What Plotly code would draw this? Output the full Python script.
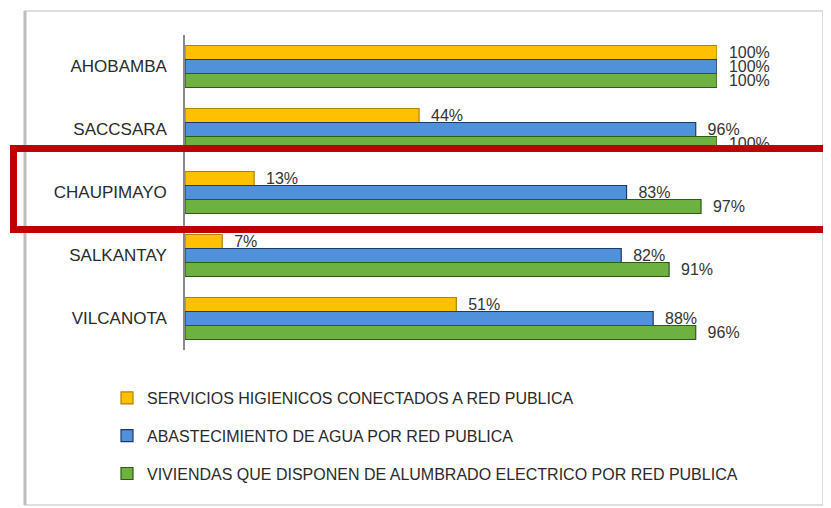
import plotly.graph_objects as go

categories = ["AHOBAMBA", "SACCSARA", "CHAUPIMAYO", "SALKANTAY", "VILCANOTA"]
series_names = [
    "SERVICIOS HIGIENICOS CONECTADOS A RED PUBLICA",
    "ABASTECIMIENTO DE AGUA POR RED PUBLICA",
    "VIVIENDAS QUE DISPONEN DE ALUMBRADO ELECTRICO POR RED PUBLICA",
]
servicios_higienicos = [100, 44, 13, 7, 51]
abastecimiento_agua = [100, 96, 83, 82, 88]
alumbrado_electrico = [100, 100, 97, 91, 96]

series_values = [servicios_higienicos, abastecimiento_agua, alumbrado_electrico]
colors = ["#FFC000", "#4F91DA", "#6DB140"]
edge_colors = ["#B08400", "#1F3A68", "#2F5A1A"]

FONT = "Liberation Sans, Arial, sans-serif"

# page offset (body margin) is 8px
OFF = 8
W, H = 831, 508
L, T = 177, 27
PW, PH = 532, 315
R, B = W - L - PW, H - T - PH


def px(xp):
    """page pixel x -> paper x"""
    return (xp - OFF - L) / PW


def py(yp):
    """page pixel y -> paper y"""
    return (T + PH - (yp - OFF)) / PH


fig = go.Figure()
for i, (name, vals) in enumerate(zip(series_names, series_values)):
    fig.add_trace(go.Bar(
        y=categories,
        x=vals,
        name=name,
        orientation="h",
        marker=dict(color=colors[i], line=dict(color=edge_colors[i], width=1.2)),
        text=[f"\u00a0\u00a0{v}%" for v in vals],
        textposition="outside",
        constraintext="none",
        cliponaxis=False,
        textfont=dict(family=FONT, size=16, color="#333333"),
        legendgroup=f"g{i}",
    ))

fig.update_layout(
    width=W, height=H,
    margin=dict(l=L, r=R, t=T, b=B, pad=0),
    paper_bgcolor="white",
    plot_bgcolor="white",
    barmode="group",
    bargap=0.333,
    bargroupgap=0,
    font=dict(family=FONT, color="#333333"),
    xaxis=dict(range=[0, 100], visible=False),
    yaxis=dict(
        autorange="reversed",
        showline=True, linecolor="#8a8a8a", linewidth=1.5,
        showgrid=False, ticks="", ticklabelstandoff=13,
        tickfont=dict(family=FONT, size=17, color="#2a2a2a"),
    ),
    showlegend=True,
    legend=dict(
        x=px(107), y=py(381), xanchor="left", yanchor="top",
        font=dict(family=FONT, size=16, color="#2a2a2a"),
        tracegroupgap=14,
        traceorder="grouped",
        bgcolor="rgba(0,0,0,0)",
        itemwidth=30,
    ),
    shapes=[
        dict(type="rect", xref="paper", yref="paper",
             x0=px(25), x1=px(823), y0=py(505), y1=py(11),
             line=dict(color="#d4d4d4", width=1.5), layer="below"),
        dict(type="line", xref="paper", yref="paper",
             x0=px(25), x1=px(25), y0=py(505), y1=py(11),
             line=dict(color="#bdbdbd", width=3), layer="below"),
        dict(type="rect", xref="paper", yref="paper",
             x0=px(13.5), x1=px(845), y0=py(229.5), y1=py(148.5),
             line=dict(color="#C00000", width=7)),
    ],
)

fig.write_html("out.html")
